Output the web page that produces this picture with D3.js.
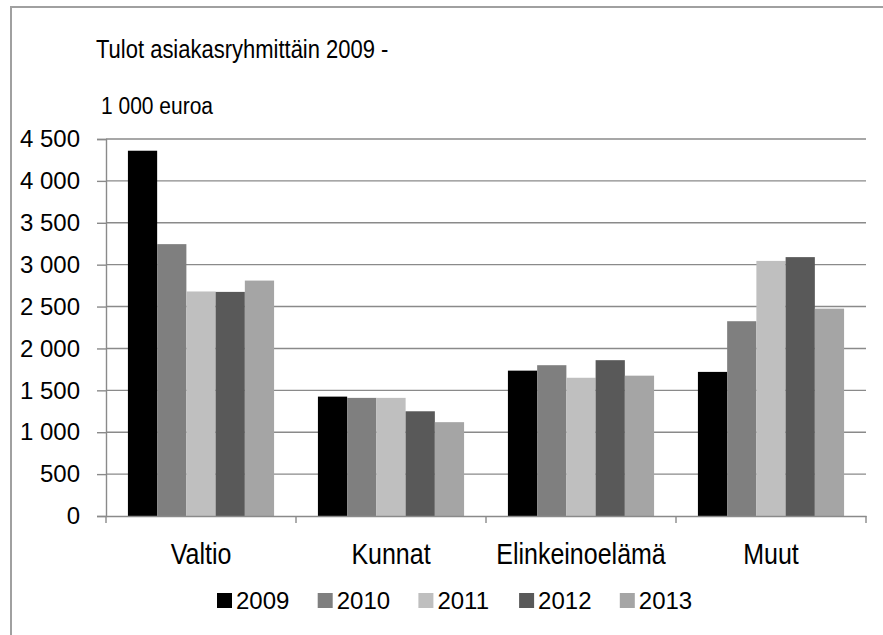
<!DOCTYPE html>
<html>
<head>
<meta charset="utf-8">
<script src="https://cdn.jsdelivr.net/npm/d3@7"></script>
<style>
  body { margin: 0; background: #fff; }
  text { font-family: "Liberation Sans", Arial, sans-serif; fill: #000; }
</style>
</head>
<body>
<div id="chart"></div>
<script>
// data (1 000 euroa)
var categories = ["Valtio", "Kunnat", "Elinkeinoelämä", "Muut"];
var years = ["2009", "2010", "2011", "2012", "2013"];
var v2009 = [4360, 1425, 1735, 1720];
var v2010 = [3245, 1410, 1800, 2325];
var v2011 = [2680, 1410, 1650, 3045];
var v2012 = [2675, 1250, 1860, 3090];
var v2013 = [2810, 1120, 1675, 2475];
var yTicks = [0, 500, 1000, 1500, 2000, 2500, 3000, 3500, 4000, 4500];
var titleLines = ["Tulot asiakasryhmittäin 2009 -", "1 000 euroa"];

function init(){

	var w = 883;
	var h = 635;
	var color = {
		"2009": "#000000",
		"2010": "#7f7f7f",
		"2011": "#bfbfbf",
		"2012": "#595959",
		"2013": "#a5a5a5"
	};
	var series = [v2009, v2010, v2011, v2012, v2013];

	var left = 106, right = 866, top = 139, bottom = 516;

	var fi = d3.formatLocale({decimal: ",", thousands: " ", grouping: [3], currency: ["", ""]});
	var fmt = fi.format(",d");

	var svg = d3.select("#chart")
		.append("svg")
		.attr("width", w)
		.attr("height", h);

	// outer frame (cut at right and bottom)
	svg.append("rect")
		.attr("x", 11)
		.attr("y", 7)
		.attr("width", w + 20)
		.attr("height", h + 20)
		.attr("fill", "none")
		.attr("stroke", "#a0a0a0")
		.attr("stroke-width", 2);

	var xScale = d3.scaleBand()
		.domain(categories)
		.range([left, right]);

	var xSub = d3.scaleBand()
		.domain(years)
		.range([0, xScale.bandwidth()])
		.paddingOuter(0.75);

	var yScale = d3.scaleLinear()
		.domain([0, 4500])
		.range([bottom, top]);

	// grid
	svg.append("g")
		.selectAll("line")
		.data(yTicks.filter(function(d){ return d > 0; }))
		.enter()
		.append("line")
		.attr("x1", left)
		.attr("x2", right)
		.attr("y1", function(d){ return yScale(d); })
		.attr("y2", function(d){ return yScale(d); })
		.attr("stroke", "#8a8a8a")
		.attr("stroke-width", 1.4);

	// bars
	years.forEach(function(yr, k){
		svg.append("g")
			.selectAll("rect")
			.data(series[k])
			.enter()
			.append("rect")
			.attr("x", function(d, i){ return xScale(categories[i]) + xSub(yr); })
			.attr("y", function(d){ return yScale(d); })
			.attr("width", xSub.bandwidth())
			.attr("height", function(d){ return bottom - yScale(d); })
			.attr("fill", color[yr]);
	});

	// y axis
	var yAxis = d3.axisLeft(yScale)
		.tickValues(yTicks)
		.tickFormat(fmt)
		.tickSizeOuter(0)
		.tickSize(9)
		.tickPadding(17);
	var gy = svg.append("g")
		.attr("transform", "translate(" + left + ",0)")
		.call(yAxis);
	gy.selectAll("text")
		.attr("font-family", "Liberation Sans, Arial, sans-serif")
		.attr("font-size", "24px")
		.attr("fill", "#000");

	// x axis
	var xAxis = d3.axisBottom(xScale)
		.tickSize(0)
		.tickPadding(0);
	var gx = svg.append("g")
		.attr("transform", "translate(0," + bottom + ")")
		.call(xAxis);
	// labels slightly stretched vertically like the original
	gx.selectAll("text")
		.attr("font-family", "Liberation Sans, Arial, sans-serif")
		.attr("font-size", "25px")
		.attr("fill", "#000")
		.attr("y", 0)
		.attr("dy", 0)
		.attr("transform", "translate(0,48) scale(1,1.15)");

	// category boundary ticks
	var bounds = categories.map(function(c){ return xScale(c); }).concat([right]);
	svg.append("g")
		.selectAll("line")
		.data(bounds)
		.enter()
		.append("line")
		.attr("x1", function(d){ return d; })
		.attr("x2", function(d){ return d; })
		.attr("y1", bottom)
		.attr("y2", bottom + 7)
		.attr("stroke", "#8a8a8a")
		.attr("stroke-width", 1.4);

	svg.selectAll(".domain")
		.attr("stroke", "#8a8a8a")
		.attr("stroke-width", 1.4);
	gy.selectAll(".tick line")
		.attr("stroke", "#8a8a8a")
		.attr("stroke-width", 1.4);

	// title text
	svg.append("text")
		.attr("transform", "translate(96,58) scale(1,1.15)")
		.attr("font-size", "22px")
		.text(titleLines[0]);
	svg.append("text")
		.attr("transform", "translate(101,114) scale(1,1.15)")
		.attr("font-size", "21px")
		.text(titleLines[1]);

	// legend
	var lg = svg.append("g")
		.selectAll("g")
		.data(years)
		.enter()
		.append("g")
		.attr("transform", function(d, i){ return "translate(" + (217 + i * 100.7) + ",593)"; });
	lg.append("rect")
		.attr("width", 15)
		.attr("height", 15)
		.attr("fill", function(d){ return color[d]; });
	lg.append("text")
		.attr("x", 19)
		.attr("y", 15.5)
		.attr("font-size", "24px")
		.text(function(d){ return d; });
}
window.onload = init;
</script>
</body>
</html>
